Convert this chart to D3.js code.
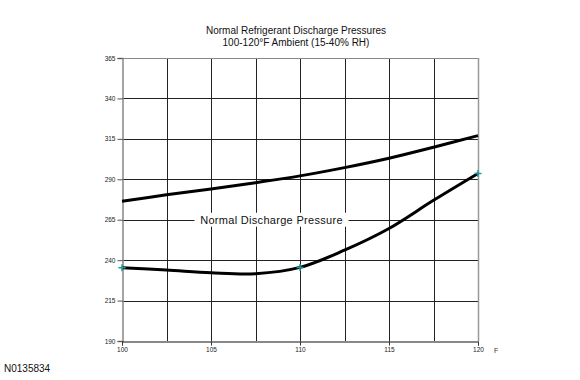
<!DOCTYPE html>
<html>
<head>
<meta charset="utf-8">
<script src="https://cdn.jsdelivr.net/npm/d3@7"></script>
<style>
  body { margin: 0; background: #fff; }
  svg { display: block; font-family: "Liberation Sans", Arial, sans-serif; }
</style>
</head>
<body>
<svg id="chart" width="580" height="380"></svg>
<script>
// Data
var titleLines = ["Normal Refrigerant Discharge Pressures", "100-120\u00B0F Ambient (15-40% RH)"];
var temps = [100, 102.5, 105, 107.5, 110, 112.5, 115, 117.5, 120];
var upperPressure = [276.4, 280.4, 284.0, 287.9, 292.1, 297.2, 303.0, 309.8, 317.0];
var lowerPressure = [235.3, 233.9, 232.2, 231.6, 235.5, 246.2, 259.6, 277.0, 293.6];
var markerTemps = [100, 110, 120];
var markerPressures = [235.3, 235.5, 293.6];
var xTicks = [100, 105, 110, 115, 120];
var xGrid = [102.5, 105, 107.5, 110, 112.5, 115, 117.5, 120];
var yTicks = [190, 215, 240, 265, 290, 315, 340, 365];
var bandLabel = "Normal Discharge Pressure";
var figureId = "N0135834";

var svg = d3.select("#chart");
var dim = { left: 122, right: 478, top: 58, bottom: 341 };

var xScale = d3.scaleLinear().domain([100, 120]).range([dim.left, dim.right]);
var yScale = d3.scaleLinear().domain([190, 365]).range([dim.bottom, dim.top]);

// Title
svg.append("g").selectAll("text")
   .data(titleLines)
   .enter().append("text")
   .attr("x", 296)
   .attr("y", function(d, i) { return 34 + i * 12; })
   .attr("text-anchor", "middle")
   .attr("font-size", 10)
   .attr("fill", "#111")
   .text(function(d) { return d; });

// Grid
var grid = svg.append("g").attr("class", "grid");
grid.selectAll("line.h")
    .data(yTicks.slice(1, -1))
    .enter().append("line")
    .attr("x1", dim.left).attr("x2", dim.right)
    .attr("y1", function(d) { return Math.round(yScale(d)) + 0.5; })
    .attr("y2", function(d) { return Math.round(yScale(d)) + 0.5; })
    .attr("stroke", "#222").attr("stroke-width", 1);
grid.selectAll("line.v")
    .data(xGrid.slice(0, -1))
    .enter().append("line")
    .attr("y1", dim.top).attr("y2", dim.bottom)
    .attr("x1", function(d) { return Math.round(xScale(d)) + 0.5; })
    .attr("x2", function(d) { return Math.round(xScale(d)) + 0.5; })
    .attr("stroke", "#222").attr("stroke-width", 1);

// Frame: top and right gray
svg.append("line")
   .attr("x1", dim.left).attr("x2", dim.right)
   .attr("y1", dim.top + 0.5).attr("y2", dim.top + 0.5)
   .attr("stroke", "#888");
svg.append("line")
   .attr("x1", dim.right + 0.5).attr("x2", dim.right + 0.5)
   .attr("y1", dim.top).attr("y2", dim.bottom)
   .attr("stroke", "#999").attr("stroke-width", 1.5);

// Axes
var yAxis = d3.axisLeft(yScale).tickValues(yTicks).tickSize(5).tickPadding(2);
var gy = svg.append("g")
   .attr("transform", "translate(" + (dim.left + 0.5) + ",0)")
   .call(yAxis);
gy.select(".domain").attr("stroke", "#888").attr("stroke-width", 1.5);
gy.selectAll(".tick line").attr("stroke", "#555");
gy.selectAll("text").attr("font-size", 6.5).attr("fill", "#222")
  .attr("font-family", "Liberation Sans, Arial, sans-serif");

var xAxis = d3.axisBottom(xScale).tickValues(xTicks).tickSize(4).tickPadding(2);
var gx = svg.append("g")
   .attr("transform", "translate(0," + (dim.bottom + 0.5) + ")")
   .call(xAxis);
gx.select(".domain").attr("stroke", "#111").attr("stroke-width", 1);
gx.selectAll(".tick line").attr("stroke", "#333");
gx.selectAll("text").attr("font-size", 6.5).attr("fill", "#222")
  .attr("font-family", "Liberation Sans, Arial, sans-serif");

svg.append("text")
   .attr("x", 494).attr("y", 353)
   .attr("font-size", 7).attr("fill", "#333")
   .text("F");

// Band label with white background over the gridline
var labelX = xScale(108.4), labelY = yScale(265);
svg.append("rect")
   .attr("x", labelX - 77).attr("y", labelY - 7)
   .attr("width", 154).attr("height", 14)
   .attr("fill", "#fff");
svg.append("text")
   .attr("x", labelX).attr("y", labelY + 4)
   .attr("text-anchor", "middle")
   .attr("font-size", 11)
   .attr("letter-spacing", 0.3)
   .attr("fill", "#111")
   .text(bandLabel);

// Curves
var line = d3.line()
   .x(function(d) { return xScale(d[0]); })
   .y(function(d) { return yScale(d[1]); })
   .curve(d3.curveCatmullRom.alpha(0.5));

svg.append("path")
   .datum(d3.zip(temps, upperPressure))
   .attr("fill", "none").attr("stroke", "#000").attr("stroke-width", 3)
   .attr("d", line);
svg.append("path")
   .datum(d3.zip(temps, lowerPressure))
   .attr("fill", "none").attr("stroke", "#000").attr("stroke-width", 3)
   .attr("d", line);

// Teal plus markers
svg.append("g").selectAll("path")
   .data(d3.zip(markerTemps, markerPressures))
   .enter().append("path")
   .attr("d", d3.symbol().type({ draw: function(ctx, size) {
      var r = 3.5;
      ctx.moveTo(-r, 0); ctx.lineTo(r, 0);
      ctx.moveTo(0, -r); ctx.lineTo(0, r);
   } }).size(30))
   .attr("transform", function(d) { return "translate(" + xScale(d[0]) + "," + yScale(d[1]) + ")"; })
   .attr("fill", "none").attr("stroke", "#1f9a9a").attr("stroke-width", 1.5);

// Figure id
svg.append("text")
   .attr("x", 4).attr("y", 372)
   .attr("font-size", 10).attr("fill", "#111")
   .text(figureId);
</script>
</body>
</html>
